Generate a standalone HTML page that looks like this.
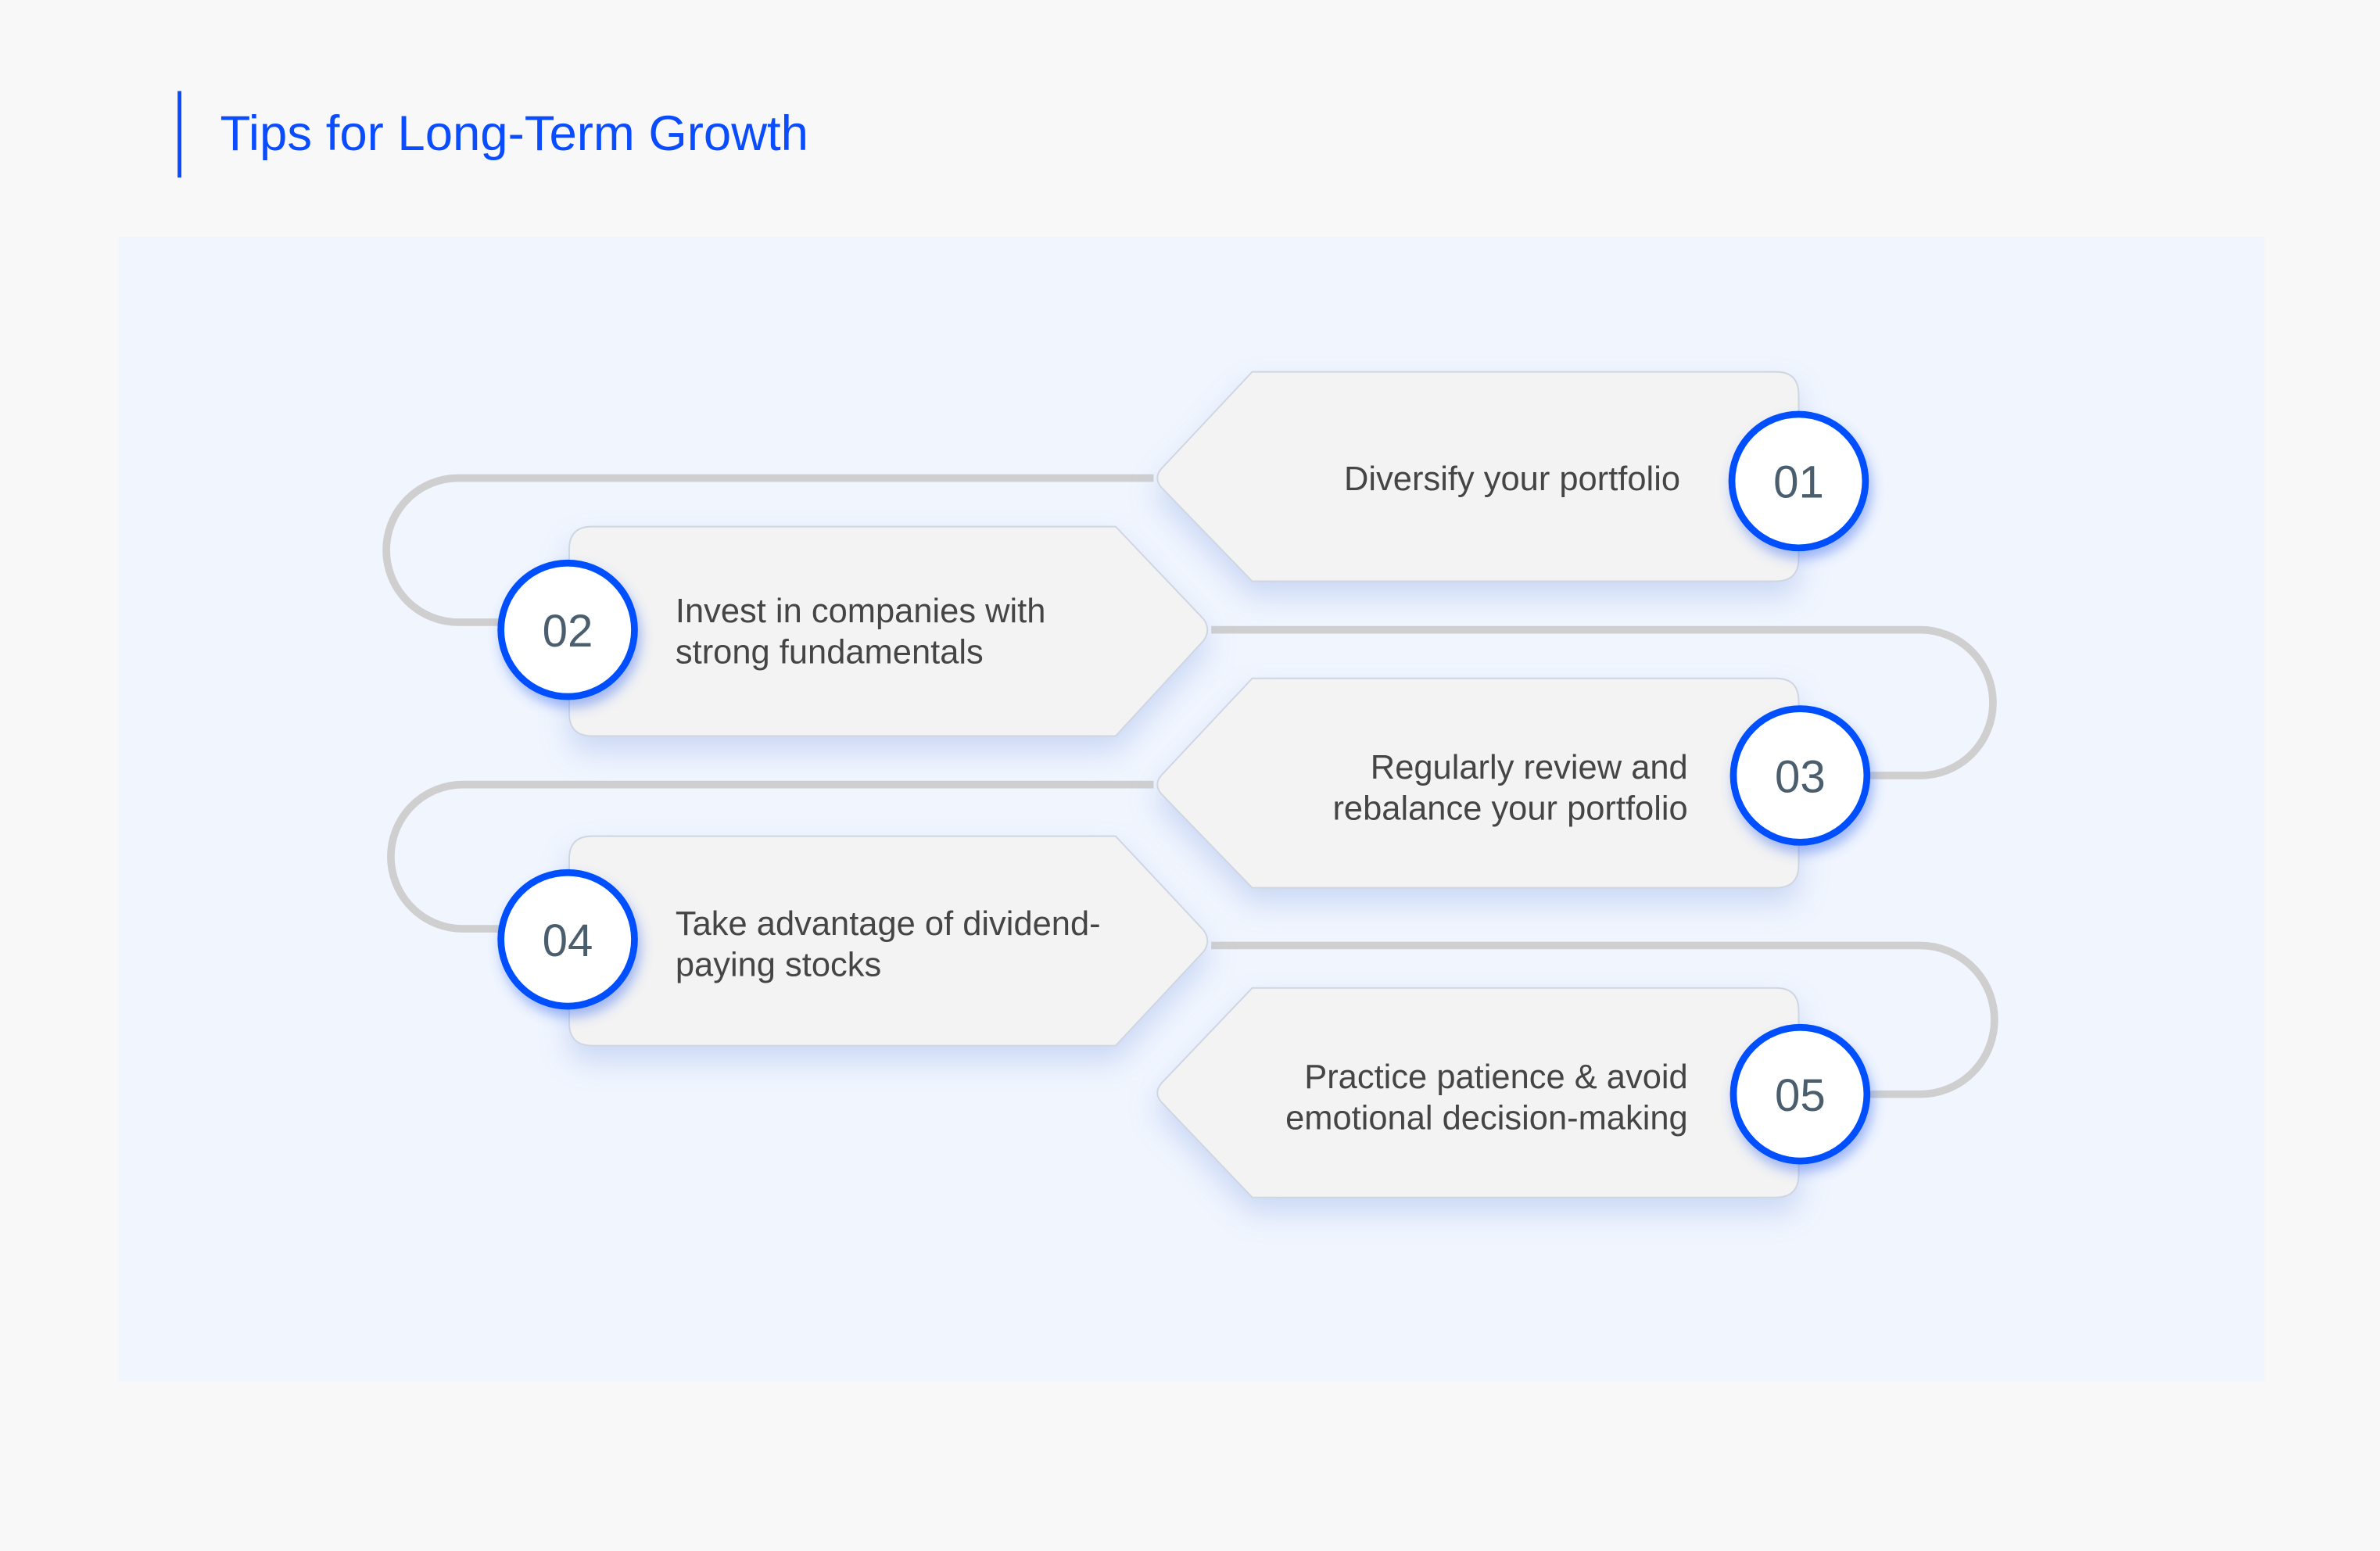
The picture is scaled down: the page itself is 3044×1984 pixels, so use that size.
<!DOCTYPE html>
<html><head><meta charset="utf-8"><style>
html,body{margin:0;padding:0;background:#f8f8f8;}
svg{display:block;}
text{font-family:"Liberation Sans",sans-serif;}
</style></head><body>
<svg width="3044" height="1984" viewBox="0 0 1568 1022" xmlns="http://www.w3.org/2000/svg">
<defs>
<filter id="sh" x="-20%" y="-20%" width="140%" height="160%">
<feDropShadow dx="0" dy="10" stdDeviation="9" flood-color="#9fb6ea" flood-opacity="0.45"/>
</filter>
<filter id="csh" x="-40%" y="-40%" width="180%" height="180%">
<feDropShadow dx="2" dy="5" stdDeviation="4" flood-color="#3a6cf0" flood-opacity="0.45"/>
</filter>
</defs>
<rect width="1568" height="1022" fill="#f8f8f8"/>
<rect x="117" y="60" width="2.5" height="57" fill="#0a4cff"/>
<text x="145" y="99" font-size="32.7" fill="#0a4cff">Tips for Long-Term Growth</text>
<rect x="78" y="156" width="1414" height="754" fill="#f0f5fe"/>

<g fill="none" stroke="#cfcfcf" stroke-width="5">
<path d="M760,315 H302 A47.5,47.5 0 0 0 302,410 H335"/>
<path d="M798,415 H1265 A48,48 0 0 1 1265,511 H1225"/>
<path d="M760,517 H305 A47.5,47.5 0 0 0 305,612 H335"/>
<path d="M798,623 H1265 A49,49 0 0 1 1265,721 H1225"/>
</g>

<g fill="#f3f3f3" stroke="#cfd6e2" stroke-width="1" filter="url(#sh)">
<path d="M825,245 H1170 Q1185,245 1185,260 V368 Q1185,383 1170,383 H825 L765,321 Q760,315 765,309 Z"/>
<path d="M390,347 H735 L793,408 Q798,415 793,422 L735,485 H390 Q375,485 375,470 V362 Q375,347 390,347 Z"/>
<path d="M825,447 H1170 Q1185,447 1185,462 V570 Q1185,585 1170,585 H825 L765,523 Q760,517 765,511 Z"/>
<path d="M390,551 H735 L793,613 Q798,620 793,627 L735,689 H390 Q375,689 375,674 V566 Q375,551 390,551 Z"/>
<path d="M825,651 H1170 Q1185,651 1185,666 V774 Q1185,789 1170,789 H825 L765,726 Q760,720 765,714 Z"/>
</g>

<g font-size="22.4" fill="#454545">
<text x="1107" y="323" text-anchor="end">Diversify your portfolio</text>
<text x="445" y="410">Invest in companies with</text>
<text x="445" y="437">strong fundamentals</text>
<text x="1112" y="513" text-anchor="end">Regularly review and</text>
<text x="1112" y="540" text-anchor="end">rebalance your portfolio</text>
<text x="445" y="616">Take advantage of dividend-</text>
<text x="445" y="643">paying stocks</text>
<text x="1112" y="717" text-anchor="end">Practice patience &amp; avoid</text>
<text x="1112" y="744" text-anchor="end">emotional decision-making</text>
</g>

<g fill="#fff" stroke="#0050ff" stroke-width="4.5" filter="url(#csh)">
<circle cx="1185" cy="317" r="44"/>
<circle cx="374" cy="415" r="44"/>
<circle cx="1186" cy="511" r="44"/>
<circle cx="374" cy="619" r="44"/>
<circle cx="1186" cy="721" r="44"/>
</g>
<g font-size="30" fill="#4a5e6e" text-anchor="middle">
<text x="1185" y="328">01</text>
<text x="374" y="426">02</text>
<text x="1186" y="522">03</text>
<text x="374" y="630">04</text>
<text x="1186" y="732">05</text>
</g>
</svg>
</body></html>
